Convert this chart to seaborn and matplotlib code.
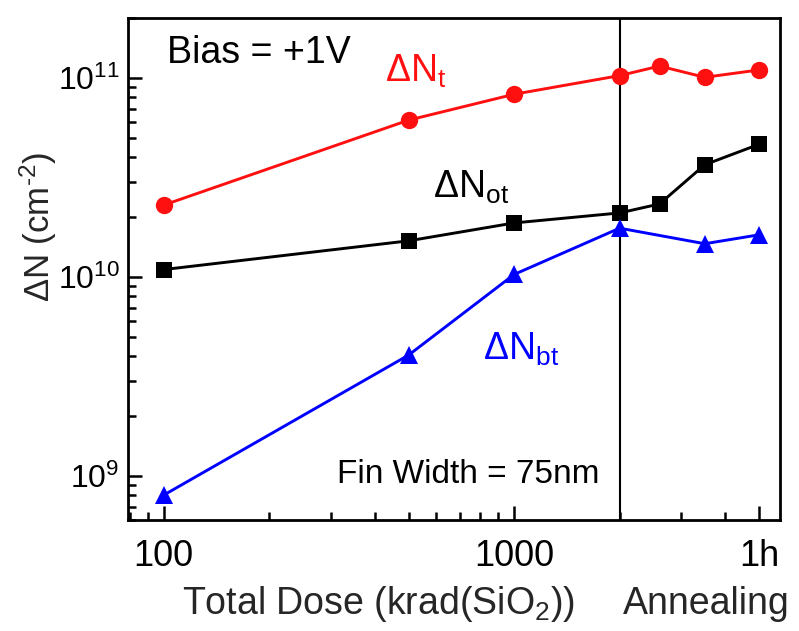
import numpy as np
import pandas as pd
import matplotlib
matplotlib.use("Agg")
import matplotlib.pyplot as plt
import matplotlib.ticker as mticker
import seaborn as sns

# Dose steps (krad) followed by the annealing steps placed past the last dose
dose = [100, 500, 1000, 2000, 2600, 3500, 5000]
n_t = [2.3e10, 6.15e10, 8.3e10, 1.03e11, 1.15e11, 1.01e11, 1.10e11]
n_ot = [1.09e10, 1.52e10, 1.87e10, 2.1e10, 2.33e10, 3.67e10, 4.65e10]
dose_bt = [100, 500, 1000, 2000, 3500, 5000]
n_bt = [8.0e8, 4.05e9, 1.03e10, 1.76e10, 1.47e10, 1.63e10]

x_ticks = [100, 1000, 5000]
x_tick_labels = ["100", "1000", "1h"]
anneal_start = 2000

sns.set_theme(style="white")
plt.rcParams["font.family"] = ["Liberation Sans", "DejaVu Sans"]
plt.rcParams["mathtext.fontset"] = "custom"
plt.rcParams["mathtext.rm"] = "Liberation Sans"
plt.rcParams["mathtext.it"] = "Liberation Sans"

fig = plt.figure(figsize=(7.99, 6.31), dpi=100)
ax = fig.add_axes([0.160, 0.176, 0.816, 0.795])

df_t = pd.DataFrame({"x": dose, "y": n_t})
df_ot = pd.DataFrame({"x": dose, "y": n_ot})
df_bt = pd.DataFrame({"x": dose_bt, "y": n_bt})

red = "#ff1010"
blue = "#0000ff"
lw = 2.1
sns.lineplot(data=df_t, x="x", y="y", ax=ax, color=red, lw=lw,
             marker="o", markersize=12.5, markeredgewidth=0)
sns.lineplot(data=df_ot, x="x", y="y", ax=ax, color="black", lw=lw,
             marker="s", markersize=11, markeredgewidth=0)
sns.lineplot(data=df_bt, x="x", y="y", ax=ax, color=blue, lw=lw,
             marker="^", markersize=13, markeredgewidth=0)

ax.set_xscale("log")
ax.set_yscale("log")
ax.set_xlim(79, 5730)
ax.set_ylim(6.0e8, 2.0e11)

ax.axvline(anneal_start, color="black", lw=1.5, zorder=0)

ax.xaxis.set_major_locator(mticker.FixedLocator(x_ticks))
ax.xaxis.set_major_formatter(mticker.FixedFormatter(x_tick_labels))
ax.xaxis.set_minor_locator(mticker.LogLocator(base=10, subs=np.arange(2, 10)))
ax.xaxis.set_minor_formatter(mticker.NullFormatter())
ax.yaxis.set_major_locator(mticker.LogLocator(base=10, numticks=10))
ax.yaxis.set_minor_locator(mticker.LogLocator(base=10, subs=np.arange(2, 10), numticks=20))
ax.yaxis.set_minor_formatter(mticker.NullFormatter())

ax.tick_params(which="both", direction="in", top=False, right=False,
               left=True, bottom=True, width=1.8, colors="black")
ax.tick_params(which="major", length=10)
ax.tick_params(which="minor", length=5.5)
ax.tick_params(axis="x", which="major", labelsize=26, pad=14)
ax.tick_params(axis="y", which="major", labelsize=23, pad=6)
for sp in ax.spines.values():
    sp.set_linewidth(2.0)
    sp.set_color("black")

ax.set_xlabel("")
ax.set_ylabel("")
fig.text(0.048, 0.64, r"$\Delta$N (cm$^{\text{-}2}$)", fontsize=25,
         rotation=90, ha="center", va="center")

ax.text(0.060, 0.910, "Bias = +1V", transform=ax.transAxes, fontsize=27,
        ha="left", va="baseline", color="black")
ax.text(0.394, 0.873, r"$\Delta$N$_\mathregular{t}$", transform=ax.transAxes,
        fontsize=27, ha="left", va="baseline", color=red)
ax.text(0.468, 0.643, r"$\Delta$N$_\mathregular{ot}$", transform=ax.transAxes,
        fontsize=27, ha="left", va="baseline", color="black")
ax.text(0.544, 0.319, r"$\Delta$N$_\mathregular{bt}$", transform=ax.transAxes,
        fontsize=27, ha="left", va="baseline", color=blue)
ax.text(0.321, 0.074, "Fin Width = 75nm", transform=ax.transAxes,
        fontsize=24, ha="left", va="baseline", color="black")

fig.text(182 / 799, 1 - 614 / 631, r"Total Dose (krad(SiO$_\mathregular{2}$))",
         fontsize=27, ha="left", va="baseline")
fig.text(623 / 799, 1 - 614 / 631, "Annealing", fontsize=27,
         ha="left", va="baseline")

fig.savefig("out.png", dpi=100)
